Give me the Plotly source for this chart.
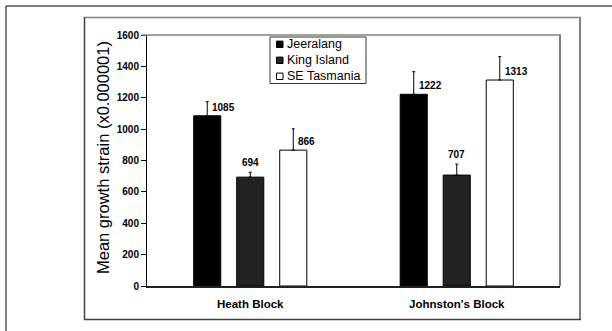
import plotly.graph_objects as go

# Growth strain by provenance and block
blocks = ["Heath Block", "Johnston's Block"]
provenances = ["Jeeralang", "King Island", "SE Tasmania"]
means = {
    "Jeeralang": [1085, 1222],
    "King Island": [694, 707],
    "SE Tasmania": [866, 1313],
}
errors = {
    "Jeeralang": [90, 144],
    "King Island": [31, 70],
    "SE Tasmania": [136, 149],
}
fills = {"Jeeralang": "#000000", "King Island": "#222222", "SE Tasmania": "#ffffff"}
y_ticks = [0, 200, 400, 600, 800, 1000, 1200, 1400, 1600]

FONT = "Liberation Sans, Arial, sans-serif"
W, H = 612, 331
L, R, T, B = 147, 52, 35, 45
PW, PH = W - L - R, H - T - B


def xp(px):
    return (px - L) / PW


def yp(py):
    return (H - B - py) / PH


BARGAP = 0.375
slot = (1 - BARGAP) / len(provenances)

fig = go.Figure()
for k, name in enumerate(provenances):
    fig.add_trace(go.Bar(
        name=name,
        x=blocks,
        y=means[name],
        marker=dict(color=fills[name], line=dict(color="#000000", width=1)),
        error_y=dict(type="data", symmetric=False, array=errors[name],
                     arrayminus=[0] * len(blocks), color="#000000",
                     thickness=1, width=1.5),
        showlegend=False,
    ))

# value labels beside / above the bars
annotations = []
for k, name in enumerate(provenances):
    offset = (k - (len(provenances) - 1) / 2) * slot
    for i, v in enumerate(means[name]):
        if name == "King Island":
            annotations.append(dict(
                x=i + offset, y=v + errors[name][i], xref="x", yref="y",
                text=f"<b>{v}</b>", showarrow=False, xanchor="center",
                yanchor="bottom", yshift=2,
                font=dict(family=FONT, size=10, color="#000000")))
        else:
            annotations.append(dict(
                x=i + offset, y=v, xref="x", yref="y",
                text=f"<b>{v}</b>", showarrow=False, xanchor="left",
                yanchor="bottom", xshift=3, yshift=1,
                font=dict(family=FONT, size=10, color="#000000")))

# y-axis title
annotations.append(dict(
    x=xp(103), y=yp(158), xref="paper", yref="paper",
    text="Mean growth strain (x0.000001)", textangle=-90, showarrow=False,
    xanchor="center", yanchor="middle",
    font=dict(family=FONT, size=16.5, color="#000000")))

shapes = []


def line(x0, y0, x1, y1, color, width):
    shapes.append(dict(type="line", xref="paper", yref="paper",
                       x0=xp(x0), y0=yp(y0), x1=xp(x1), y1=yp(y1),
                       line=dict(color=color, width=width), layer="above"))


# outer frame
line(6, 6, 620, 6, "#000000", 1)
line(6, 6, 6, 340, "#000000", 1)
# inner panel frame
line(84, 17.5, 581, 17.5, "#808080", 1.5)
line(580, 17, 580, 320, "#808080", 2)
line(84.5, 17, 84.5, 320, "#404040", 1.5)
line(84, 319.5, 581, 319.5, "#404040", 1.5)
# plot area top and right edges
line(142, 35, 561, 35, "#808080", 1.5)
line(560, 35, 560, 286, "#808080", 2)

# legend
lx0, lx1, ly0, ly1 = 270, 366, 37, 83.5
shapes.append(dict(type="rect", xref="paper", yref="paper",
                   x0=xp(lx0), x1=xp(lx1), y0=yp(ly1), y1=yp(ly0),
                   line=dict(color="#333333", width=1), fillcolor="#ffffff",
                   layer="above"))
for k, name in enumerate(provenances):
    cy = 44.3 + 16 * k
    shapes.append(dict(type="rect", xref="paper", yref="paper",
                       x0=xp(276.5), x1=xp(283), y0=yp(cy + 3.2), y1=yp(cy - 3.2),
                       line=dict(color="#000000", width=1), fillcolor=fills[name],
                       layer="above"))
    annotations.append(dict(
        x=xp(285), y=yp(cy), xref="paper", yref="paper", text=name,
        showarrow=False, xanchor="left", yanchor="middle",
        font=dict(family=FONT, size=12.5, color="#000000")))

fig.update_layout(
    width=W, height=H,
    margin=dict(l=L, r=R, t=T, b=B, autoexpand=False),
    paper_bgcolor="#ffffff", plot_bgcolor="#ffffff",
    barmode="group", bargap=BARGAP, bargroupgap=0.37,
    font=dict(family=FONT, color="#000000"),
    shapes=shapes, annotations=annotations,
    xaxis=dict(
        showgrid=False, zeroline=False, showline=True, linecolor="#222222",
        linewidth=1.5, ticks="", tickfont=dict(family=FONT, size=11.5, color="#000000"),
        ticktext=[f"<b>{b}</b>" for b in blocks], tickvals=blocks,
        ticklabelstandoff=6, range=[-0.5, 1.5],
    ),
    yaxis=dict(
        range=[0, 1600], tickvals=y_ticks,
        ticktext=[f"<b>{t}</b>" for t in y_ticks],
        showgrid=False, zeroline=False, showline=True, linecolor="#000000",
        linewidth=1, ticks="outside", ticklen=5, tickcolor="#000000",
        tickwidth=1, tickfont=dict(family=FONT, size=10, color="#000000"),
    ),
)

fig.write_html("out.html")
